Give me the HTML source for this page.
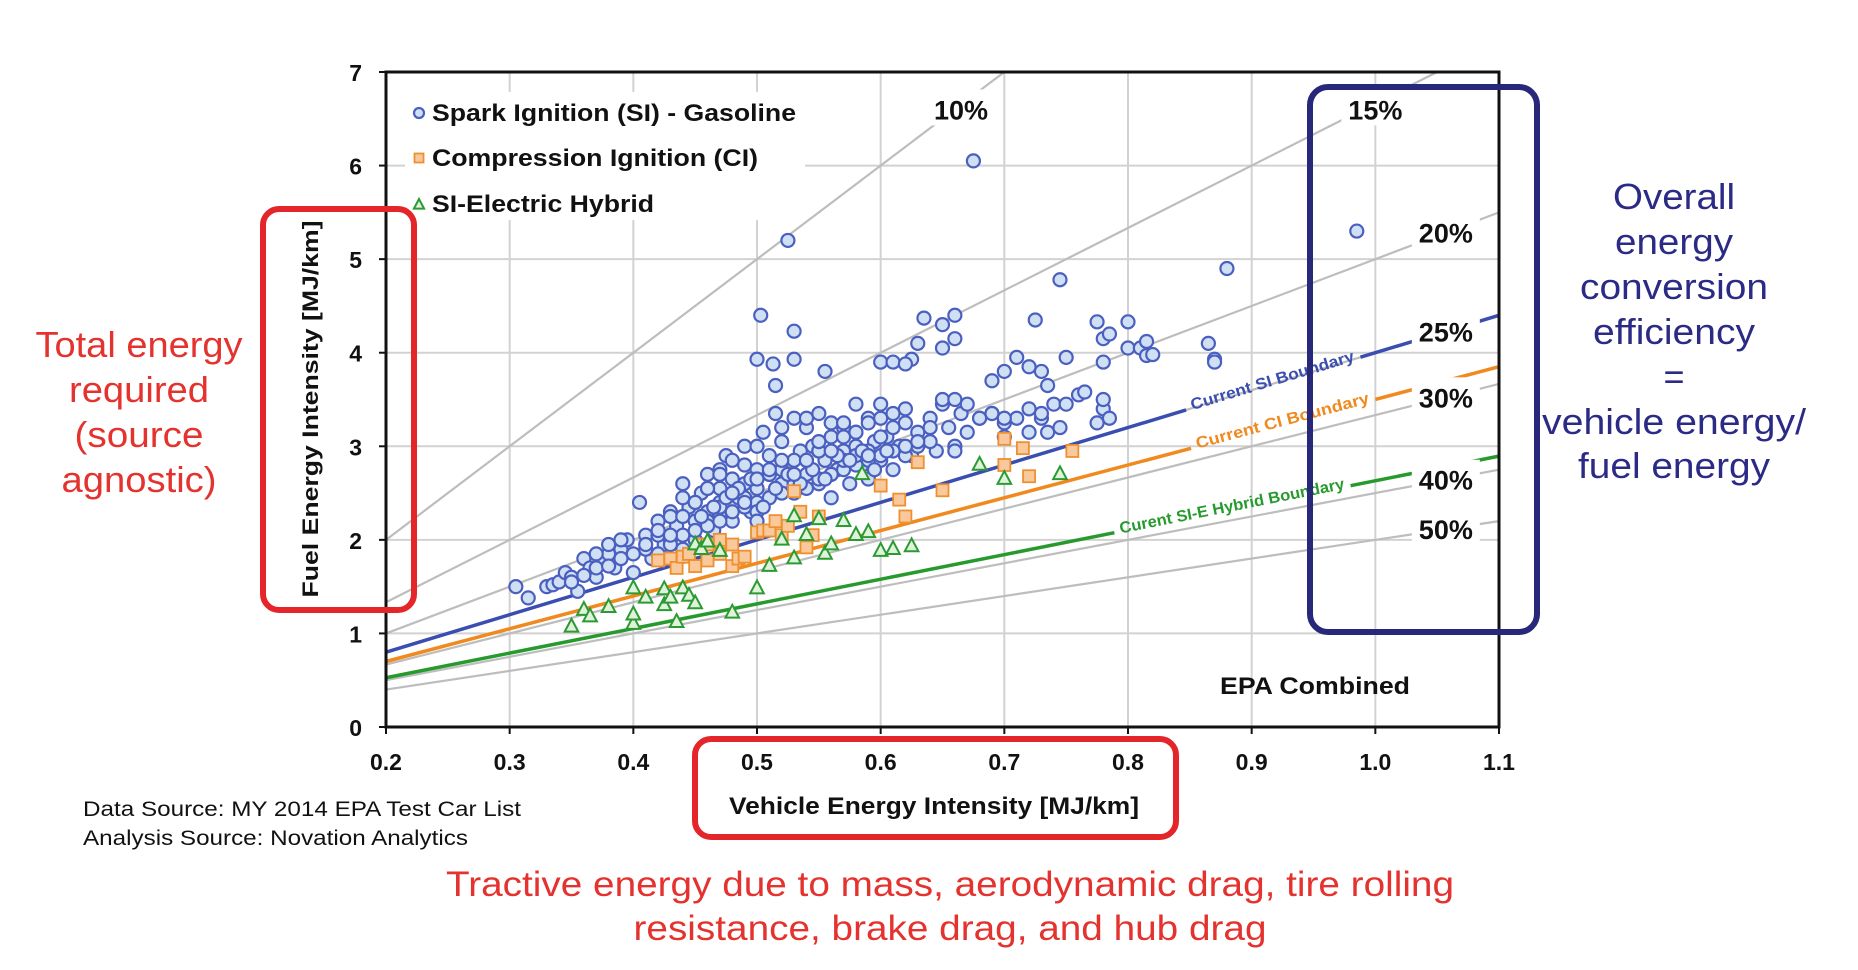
<!DOCTYPE html>
<html><head><meta charset="utf-8"><style>
html,body{margin:0;padding:0;background:#fff;}
svg{display:block;font-family:"Liberation Sans",sans-serif;}
</style></head><body>
<svg id="chart" width="1858" height="970" viewBox="0 0 1858 970" xmlns="http://www.w3.org/2000/svg">
<g id="grid"></g>
<g id="effLines"></g>
<g id="bounds"></g>
<g id="marks"></g>
<g id="axes"></g>
<g id="labels"></g>
</svg>
<script>
const xTicks=[0.2,0.3,0.4,0.5,0.6,0.7,0.8,0.9,1.0,1.1];
const xTickLabels=["0.2","0.3","0.4","0.5","0.6","0.7","0.8","0.9","1.0","1.1"];
const yTicks=[0,1,2,3,4,5,6,7];
const effValues=[0.10,0.15,0.20,0.25,0.30,0.40,0.50];
const effLabels=["10%","15%","20%","25%","30%","40%","50%"];
const effLabelX=[0.665,1.0,1.057,1.057,1.057,1.057,1.057];
const boundEff=[0.25,0.2857,0.38];
const boundNames=["Current SI Boundary","Current CI Boundary","Curent SI-E Hybrid Boundary"];
const boundGapStart=[0.847,0.851,0.789];
const boundGapEnd=[0.988,1.0,0.98];
const siX=[0.305,0.315,0.33,0.335,0.34,0.345,0.35,0.355,0.36,0.365,0.37,0.375,0.38,0.385,0.39,0.395,0.4,0.4,0.405,0.41,0.415,0.42,0.425,0.43,0.435,0.44,0.44,0.445,0.45,0.45,0.455,0.46,0.46,0.465,0.47,0.47,0.475,0.48,0.48,0.485,0.49,0.49,0.495,0.5,0.5,0.505,0.51,0.51,0.515,0.52,0.52,0.525,0.53,0.53,0.535,0.54,0.54,0.545,0.55,0.55,0.555,0.56,0.56,0.565,0.57,0.57,0.575,0.58,0.58,0.585,0.59,0.59,0.595,0.6,0.6,0.605,0.61,0.61,0.615,0.62,0.625,0.63,0.64,0.645,0.65,0.655,0.66,0.665,0.67,0.68,0.69,0.70,0.71,0.72,0.73,0.74,0.745,0.76,0.78,0.785,0.78,
0.503,0.5,0.513,0.53,0.53,0.515,0.555,0.525,0.675,0.985,0.88,0.745,0.59,0.6,0.61,0.63,0.635,0.65,0.66,0.66,0.65,0.625,0.62,0.69,0.7,0.71,0.725,0.72,0.73,0.735,0.75,0.765,0.775,0.78,0.785,0.8,0.8,0.81,0.815,0.815,0.82,0.865,0.87,0.87,0.775,0.78,0.69,0.7,0.72,0.735,0.66,0.65,0.66,0.75,0.68,0.73,
0.35,0.36,0.37,0.38,0.39,0.41,0.42,0.43,0.44,0.45,0.46,0.47,0.48,0.49,0.5,0.51,0.52,0.53,0.54,0.55,0.56,0.57,0.58,0.59,0.6,0.61,0.62,0.63,0.64,0.42,0.43,0.45,0.46,0.47,0.48,0.49,0.5,0.51,0.52,0.53,0.54,0.55,0.56,0.57,0.58,0.59,0.6,0.62,0.44,0.46,0.48,0.5,0.52,0.54,0.56,0.58,0.60,0.62,0.64,0.67,0.70,0.43,0.47,0.49,0.51,0.53,0.57,0.61,0.63,0.55,0.5,0.47,
0.455,0.465,0.475,0.485,0.495,0.505,0.515,0.525,0.535,0.545,0.555,0.565,0.575,0.585,0.595,0.605,0.45,0.46,0.47,0.48,0.49,0.5,0.51,0.52,0.53,0.54,0.55,0.56,0.57,0.58,0.59,0.41,0.42,0.43,0.44,0.39,0.38,0.37];
const siY=[1.5,1.38,1.5,1.52,1.55,1.65,1.6,1.45,1.8,1.7,1.6,1.75,1.85,1.7,1.9,2.0,1.65,1.85,2.4,2.05,1.8,2.2,1.95,2.3,2.15,1.9,2.6,2.35,2.2,2.0,2.5,2.7,2.3,2.1,2.55,2.4,2.9,2.2,2.65,2.45,3.0,2.8,2.3,2.55,2.75,3.15,2.45,2.9,3.35,2.6,3.05,2.8,3.3,2.5,2.95,3.2,2.7,3.0,2.6,3.35,2.85,3.1,2.45,2.75,3.2,2.95,2.6,3.45,3.0,2.8,3.3,2.65,3.05,3.3,2.85,3.1,2.75,3.35,3.0,3.25,2.9,3.15,3.3,2.95,3.45,3.2,3.0,3.35,3.15,3.3,3.35,3.25,3.3,3.4,3.3,3.45,3.2,3.55,3.4,3.3,3.5,
4.4,3.93,3.88,4.23,3.93,3.65,3.8,5.2,6.05,5.3,4.9,4.78,3.25,3.9,3.9,4.1,4.37,4.3,4.4,4.15,4.05,3.93,3.88,3.7,3.8,3.95,4.35,3.85,3.8,3.65,3.95,3.58,4.33,4.15,4.2,4.33,4.05,4.05,4.12,3.97,3.98,4.1,3.93,3.9,3.25,3.9,3.35,3.3,3.15,3.15,2.95,3.5,3.5,3.45,3.3,3.35,
1.55,1.62,1.7,1.72,1.8,1.9,1.85,2.0,2.05,2.1,2.2,2.25,2.3,2.35,2.4,2.45,2.5,2.6,2.55,2.65,2.7,2.75,2.8,2.85,2.9,2.95,2.9,3.0,3.05,2.05,1.95,2.4,2.15,2.2,2.5,2.6,2.3,2.7,2.75,2.6,2.85,2.95,2.7,2.85,2.9,2.95,3.1,3.0,2.45,2.55,2.85,3.0,3.2,3.3,3.25,3.15,3.45,3.4,3.2,3.45,3.1,2.25,2.75,2.45,2.7,2.85,3.25,3.2,3.05,2.95,2.2,2.35,
2.25,2.35,2.45,2.55,2.65,2.35,2.55,2.7,2.6,2.75,2.65,2.9,2.85,2.95,2.75,2.95,2.4,2.55,2.7,2.5,2.4,2.65,2.75,2.85,2.7,2.85,3.05,2.95,3.1,3.15,2.9,1.95,2.1,2.05,2.25,2.0,1.95,1.85];
const ciX=[0.42,0.43,0.435,0.44,0.445,0.45,0.455,0.46,0.46,0.47,0.48,0.485,0.49,0.5,0.505,0.51,0.515,0.52,0.525,0.53,0.535,0.54,0.545,0.55,0.6,0.615,0.62,0.63,0.65,0.7,0.7,0.715,0.72,0.755,0.48,0.47];
const ciY=[1.78,1.8,1.7,1.82,1.85,1.72,1.95,1.95,1.78,1.85,1.72,1.8,1.82,2.08,2.1,2.1,2.2,2.05,2.15,2.52,2.3,1.92,2.05,2.25,2.58,2.43,2.25,2.83,2.53,3.08,2.8,2.98,2.68,2.95,1.95,2.0];
const hyX=[0.35,0.36,0.365,0.38,0.40,0.40,0.40,0.41,0.425,0.425,0.43,0.435,0.44,0.445,0.45,0.48,0.5,0.45,0.455,0.46,0.47,0.51,0.52,0.53,0.54,0.53,0.55,0.555,0.56,0.57,0.58,0.59,0.6,0.61,0.625,0.585,0.68,0.70,0.745];
const hyY=[1.07,1.25,1.18,1.28,1.1,1.2,1.48,1.38,1.3,1.47,1.38,1.12,1.48,1.4,1.32,1.22,1.48,1.95,1.9,1.98,1.88,1.72,2.0,1.8,2.05,2.25,2.22,1.85,1.95,2.2,2.05,2.08,1.88,1.9,1.93,2.7,2.8,2.65,2.7];

const NS="http://www.w3.org/2000/svg";
const X0=386,X1=1499,Y0=727,Y7=72;
function sx(v){return X0+(v-0.2)/0.9*(X1-X0);}
function sy(v){return Y0-v/7*(Y0-Y7);}
function mk(tag,attrs,parent){const e=document.createElementNS(NS,tag);for(const k in attrs)e.setAttribute(k,attrs[k]);parent.appendChild(e);return e;}
const grid=document.getElementById('grid'),eff=document.getElementById('effLines'),bnd=document.getElementById('bounds'),marks=document.getElementById('marks'),axes=document.getElementById('axes'),lab=document.getElementById('labels');

xTicks.forEach((t,i)=>{const l=mk('line',{x1:sx(t),x2:sx(t),y1:Y7,y2:Y0,stroke:'#d2d2d2','stroke-width':2},grid);


const tx=mk('text',{x:sx(t),y:770,'text-anchor':'middle','font-size':23,'font-weight':'bold',fill:'#111'},axes);tx.textContent=xTickLabels[i];


mk('line',{x1:sx(t),x2:sx(t),y1:Y0,y2:Y0+7,stroke:'#111','stroke-width':2},axes);});
yTicks.forEach(t=>{const l=mk('line',{x1:X0,x2:X1,y1:sy(t),y2:sy(t),stroke:'#d2d2d2','stroke-width':2},grid);


const tx=mk('text',{x:362,y:sy(t)+9,'text-anchor':'end','font-size':23,'font-weight':'bold',fill:'#111'},axes);tx.textContent=String(t);


mk('line',{x1:X0-7,x2:X0,y1:sy(t),y2:sy(t),stroke:'#111','stroke-width':2},axes);});

effValues.forEach((e,i)=>{let xe=Math.min(1.1,7*e);const l=mk('line',{x1:sx(0.2),y1:sy(0.2/e),x2:sx(xe),y2:sy(xe/e),stroke:'#bdbdbd','stroke-width':2.2},eff);


const lx=effLabelX[i],ly=i<2?6.6:lx/e;const cx=sx(lx),cy=sy(ly);
mk('rect',{x:cx-34,y:cy-20,width:68,height:36,fill:'#fff'},lab);
const tx=mk('text',{x:cx,y:cy+10,'text-anchor':'middle','font-size':27,'font-weight':'bold',fill:'#111'},lab);tx.textContent=effLabels[i];

});

const bColors=['#3a4db0','#f0891e','#279a2d'];
boundEff.forEach((e,i)=>{const p=(x)=>[sx(x),sy(x/e)];
const a=p(0.2),b=p(boundGapStart[i]),c=p(boundGapEnd[i]),d=p(1.1);
const l1=mk('line',{x1:a[0],y1:a[1],x2:b[0],y2:b[1],stroke:bColors[i],'stroke-width':3.5},bnd);


const l2=mk('line',{x1:c[0],y1:c[1],x2:d[0],y2:d[1],stroke:bColors[i],'stroke-width':3.5},bnd);


const ang=Math.atan2(c[1]-b[1],c[0]-b[0])*180/Math.PI;const mx=(b[0]+c[0])/2,my=(b[1]+c[1])/2;
const tx=mk('text',{x:mx,y:my+2,'text-anchor':'middle','font-size':16,'font-weight':'bold',fill:bColors[i],transform:`rotate(${ang} ${mx} ${my})`,textLength:Math.hypot(c[0]-b[0],c[1]-b[1])-12,lengthAdjust:'spacingAndGlyphs'},lab);tx.textContent=boundNames[i];

});

function circle(x,y,r,parent){return mk('circle',{cx:x,cy:y,r:r,fill:'#cfdff4',stroke:'#4a5fc0','stroke-width':2.2},parent);}
function square(x,y,s,parent){return mk('rect',{x:x-s/2,y:y-s/2,width:s,height:s,fill:'#f9c99b',stroke:'#ef9030','stroke-width':1.8},parent);}
function tri(x,y,s,parent){return mk('polygon',{points:`${x},${y-s} ${x-s*0.85},${y+s*0.6} ${x+s*0.85},${y+s*0.6}`,fill:'#dff2da',stroke:'#2c9a33','stroke-width':2},parent);}
siX.forEach((v,i)=>{const c=circle(sx(v),sy(siY[i]),6.5,marks);

});
ciX.forEach((v,i)=>{const c=square(sx(v),sy(ciY[i]),12,marks);

});
hyX.forEach((v,i)=>{const c=tri(sx(v),sy(hyY[i]),8,marks);

});

mk('rect',{x:X0,y:Y7,width:X1-X0,height:Y0-Y7,fill:'none',stroke:'#111','stroke-width':3},axes);

const leg=[["Spark Ignition (SI) - Gasoline",364],["Compression Ignition (CI)",326],["SI-Electric Hybrid",222]];
const legY=[113,158,204];
mk('rect',{x:405,y:92,width:400,height:128,fill:'#fff'},lab);
leg.forEach((t,i)=>{const tx=mk('text',{x:432,y:legY[i]+8,'font-size':24,'font-weight':'bold',fill:'#111',textLength:t[1],lengthAdjust:'spacingAndGlyphs'},lab);tx.textContent=t[0];

});
circle(419,legY[0],5,lab);square(419,legY[1],9,lab);tri(419,legY[2]+1,6,lab);
</script>
<svg style="position:absolute;left:0;top:0" width="1858" height="970">
<g font-family="Liberation Sans, sans-serif">
<text x="1315" y="694" text-anchor="middle" font-size="24" font-weight="bold" fill="#111" textLength="190" lengthAdjust="spacingAndGlyphs">EPA Combined</text>
<text transform="translate(318 409) rotate(-90)" text-anchor="middle" font-size="22" font-weight="bold" fill="#111" textLength="377" lengthAdjust="spacingAndGlyphs">Fuel Energy Intensity [MJ/km]</text>
<text x="934" y="814" text-anchor="middle" font-size="24" font-weight="bold" fill="#111" textLength="410" lengthAdjust="spacingAndGlyphs">Vehicle Energy Intensity [MJ/km]</text>
<rect x="263" y="209" width="151" height="401" rx="16" fill="none" stroke="#e4262b" stroke-width="6"/>
<rect x="695" y="739" width="481" height="98" rx="16" fill="none" stroke="#e4262b" stroke-width="6"/>
<rect x="1310" y="87" width="227" height="545" rx="18" fill="none" stroke="#27287a" stroke-width="6"/>
<g fill="#e4322e" font-size="36" text-anchor="middle">
<text x="139" y="357" textLength="207" lengthAdjust="spacingAndGlyphs">Total energy</text>
<text x="139" y="402" textLength="140" lengthAdjust="spacingAndGlyphs">required</text>
<text x="139" y="447" textLength="129" lengthAdjust="spacingAndGlyphs">(source</text>
<text x="139" y="492" textLength="155" lengthAdjust="spacingAndGlyphs">agnostic)</text>
</g>
<g fill="#2b2b85" font-size="36" text-anchor="middle">
<text x="1674" y="209" textLength="122" lengthAdjust="spacingAndGlyphs">Overall</text>
<text x="1674" y="254" textLength="118" lengthAdjust="spacingAndGlyphs">energy</text>
<text x="1674" y="299" textLength="188" lengthAdjust="spacingAndGlyphs">conversion</text>
<text x="1674" y="344" textLength="162" lengthAdjust="spacingAndGlyphs">efficiency</text>
<text x="1674" y="389">=</text>
<text x="1674" y="434" textLength="264" lengthAdjust="spacingAndGlyphs">vehicle energy/</text>
<text x="1674" y="478" textLength="192" lengthAdjust="spacingAndGlyphs">fuel energy</text>
</g>
<g fill="#e4322e" font-size="35" text-anchor="middle">
<text x="950" y="896" textLength="1008" lengthAdjust="spacingAndGlyphs">Tractive energy due to mass, aerodynamic drag, tire rolling</text>
<text x="950" y="940" textLength="633" lengthAdjust="spacingAndGlyphs">resistance, brake drag, and hub drag</text>
</g>
<g fill="#111" font-size="21">
<text x="83" y="816" textLength="438" lengthAdjust="spacingAndGlyphs">Data Source: MY 2014 EPA Test Car List</text>
<text x="83" y="845" textLength="385" lengthAdjust="spacingAndGlyphs">Analysis Source: Novation Analytics</text>
</g>
</g>
</svg>
</body></html>
